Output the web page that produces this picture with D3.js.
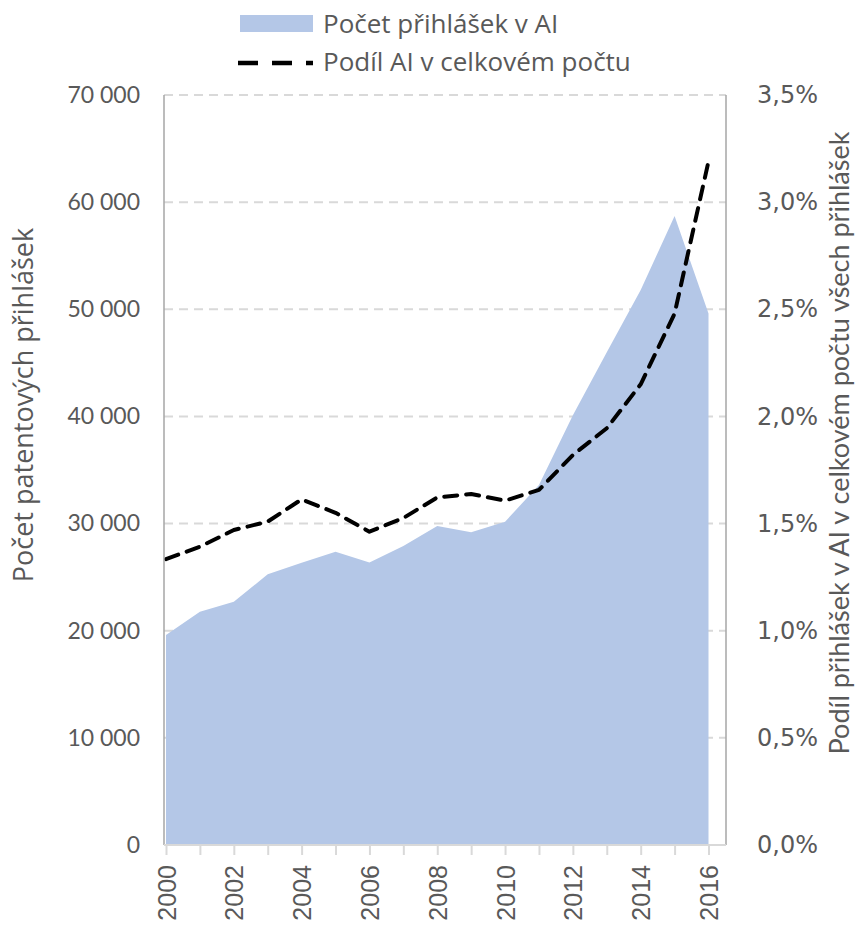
<!DOCTYPE html>
<html><head><meta charset="utf-8">
<script src="https://cdn.jsdelivr.net/npm/d3@7"></script>
<style>body{margin:0;background:#fff}svg{display:block}</style>
</head><body>
<script>
const years = [2000,2001,2002,2003,2004,2005,2006,2007,2008,2009,2010,2011,2012,2013,2014,2015,2016];
const applications = [19600,21780,22710,25260,26350,27380,26370,27900,29770,29180,30170,33600,40100,46000,51800,58700,49600];
const sharePct = [1.334,1.392,1.47,1.509,1.613,1.55,1.462,1.526,1.622,1.638,1.607,1.657,1.82,1.945,2.15,2.48,3.19];
const leftTicks = [0,10000,20000,30000,40000,50000,60000,70000];
const rightTicks = [0,0.5,1,1.5,2,2.5,3,3.5];
const xTickYears = [2000,2002,2004,2006,2008,2010,2012,2014,2016];
const seriesNames = ["Počet přihlášek v AI","Podíl AI v celkovém počtu"];
const leftTitle = "Počet patentových přihlášek";
const rightTitle = "Podíl přihlášek v AI v celkovém počtu všech přihlášek";

const W=858,H=926;
const svg=d3.select("body").append("svg").attr("width",W).attr("height",H);
const font="Lato, 'Open Sans', sans-serif";
const fontO="'Open Sans', Lato, sans-serif";
const gray="#595959";
const x=d3.scaleLinear().domain([2000,2016]).range([166,708.5]);
const yL=d3.scaleLinear().domain([0,70000]).range([845,95]);
const yR=d3.scaleLinear().domain([0,3.5]).range([845,95]);
const frameL=164, frameR=726;

// gridlines
svg.append("g").selectAll("line").data(leftTicks.filter(d=>d>0)).join("line")
  .attr("x1",frameL).attr("x2",frameR).attr("y1",d=>yL(d)).attr("y2",d=>yL(d))
  .attr("stroke","#d9d9d9").attr("stroke-width",2).attr("stroke-dasharray","9,6");

// area
svg.append("path").datum(years.map((y,i)=>[y,applications[i]]))
  .attr("fill","#b4c7e7")
  .attr("d",d3.area().x(d=>x(d[0])).y0(yL(0)).y1(d=>yL(d[1])));

// line
svg.append("path").datum(years.map((y,i)=>[y,sharePct[i]]))
  .attr("fill","none").attr("stroke","#000").attr("stroke-width",4)
  .attr("stroke-dasharray","13,9").attr("stroke-linecap","round").attr("stroke-linejoin","round")
  .attr("d",d3.line().x(d=>x(d[0])).y(d=>yR(d[1])));

// frame axes lines
svg.append("line").attr("x1",frameL).attr("x2",frameL).attr("y1",95).attr("y2",845).attr("stroke","#a6a6a6").attr("stroke-width",1.5);
svg.append("line").attr("x1",frameR).attr("x2",frameR).attr("y1",95).attr("y2",845).attr("stroke","#a6a6a6").attr("stroke-width",1.5);
svg.append("line").attr("x1",frameL).attr("x2",frameR).attr("y1",845).attr("y2",845).attr("stroke","#d9d9d9").attr("stroke-width",2);

// left axis
const fmtL=d=>d===0?"0":d3.format(",")(d).replace(/,/g," ");
const gl=svg.append("g").attr("transform",`translate(${frameL},0)`)
  .call(d3.axisLeft(yL).tickValues(leftTicks).tickSize(0).tickPadding(24).tickFormat(fmtL));
gl.select(".domain").remove();
gl.selectAll("text").attr("font-family",font).attr("font-size",23).attr("fill",gray);

// right axis
const gr=svg.append("g").attr("transform",`translate(${frameR},0)`)
  .call(d3.axisRight(yR).tickValues(rightTicks).tickSize(0).tickPadding(31).tickFormat(d=>d.toFixed(1).replace(".",",")+"%"));
gr.select(".domain").remove();
gr.selectAll("text").attr("font-family","'DejaVu Sans', Verdana, sans-serif").attr("font-size",24).attr("fill",gray);

// x axis
const gx=svg.append("g").attr("transform","translate(0,845)")
  .call(d3.axisBottom(x).tickValues(years).tickSize(10).tickFormat(d=>xTickYears.includes(d)?String(d):""));
gx.select(".domain").remove();
gx.selectAll("line").attr("stroke","#d9d9d9").attr("stroke-width",2);
gx.selectAll("text").attr("font-family","'Liberation Sans', Arial, sans-serif").attr("font-size",25).attr("fill",gray)
  .attr("transform","rotate(-90)").attr("text-anchor","end").attr("x",-20).attr("y",0).attr("dy","0.36em");

// titles
svg.append("text").attr("transform","translate(33,405) rotate(-90)").attr("text-anchor","middle")
  .attr("font-family",fontO).attr("font-size",27).attr("fill",gray).text(leftTitle);
svg.append("text").attr("transform","translate(849,443) rotate(-90)").attr("text-anchor","middle")
  .attr("font-family",font).attr("font-size",27).attr("fill",gray).text(rightTitle);

// legend
svg.append("rect").attr("x",240).attr("y",15).attr("width",73).attr("height",17).attr("fill","#b4c7e7");
svg.append("text").attr("x",323).attr("y",24).attr("dy","0.35em").attr("font-family",fontO).attr("font-size",26).attr("fill",gray).text(seriesNames[0]);
svg.append("line").attr("x1",238).attr("x2",313).attr("y1",63).attr("y2",63).attr("stroke","#000").attr("stroke-width",4.5).attr("stroke-dasharray","20,14");
svg.append("text").attr("x",323).attr("y",62).attr("dy","0.35em").attr("font-family",fontO).attr("font-size",26).attr("fill",gray).text(seriesNames[1]);
</script>
</body></html>
